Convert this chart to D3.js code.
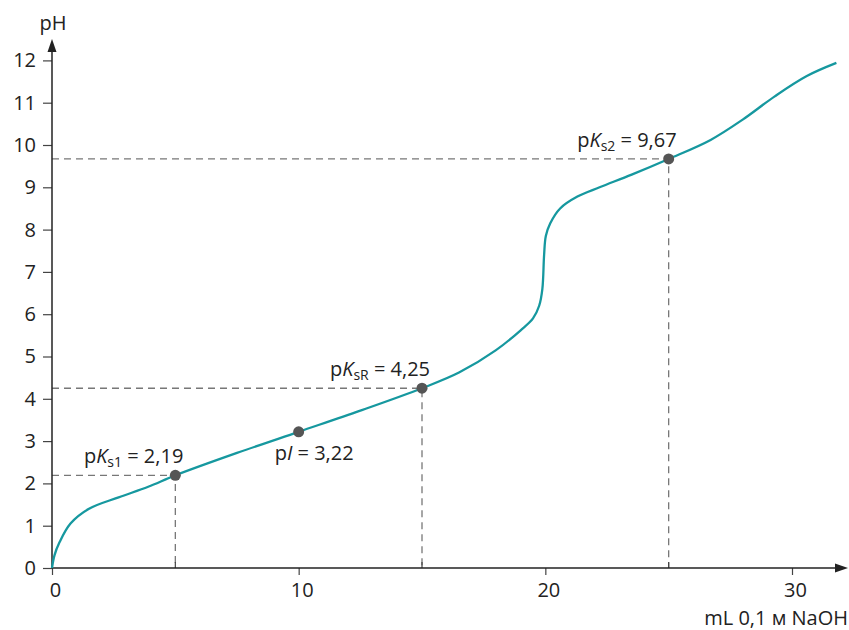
<!doctype html>
<html>
<head>
<meta charset="utf-8">
<script src="https://d3js.org/d3.v7.min.js"></script>
<style>
  body { margin: 0; background: #fff; }
  svg text { font-family: "Open Sans", "Noto Sans", sans-serif; fill: #222; }
</style>
</head>
<body>
<svg width="849" height="630"></svg>
<script>
// titration curve
var volume = [0, 0.1, 0.3, 0.75, 1.5, 2.7, 3.9, 5, 7.5, 10, 12.5, 15, 16.5, 18, 19, 19.5, 19.75, 19.88, 19.95, 20.02, 20.2, 20.6, 21.3, 22.2, 23.5, 25, 26.7, 28, 29.3, 30.6, 31.8];
var pH =     [0, 0.3, 0.6, 1.05, 1.4, 1.67, 1.92, 2.19, 2.72, 3.22, 3.72, 4.25, 4.62, 5.15, 5.62, 5.9, 6.2, 6.6, 7.4, 7.85, 8.15, 8.5, 8.78, 9.0, 9.3, 9.67, 10.12, 10.6, 11.15, 11.63, 11.94];

var markX = [5, 10, 15, 25];
var markY = [2.19, 3.22, 4.25, 9.67];
var markSub = ["s1", null, "sR", "s2"];
var markVal = ["2,19", "3,22", "4,25", "9,67"];

var xTicks = [0, 10, 20, 30];
var xMinor = [5, 15, 25];
var yTicks = d3.range(0, 13);

var svg = d3.select("svg");
var x = d3.scaleLinear().domain([0, 30]).range([52, 792]);
var y = d3.scaleLinear().domain([0, 10]).range([568, 145]);

// dashed guides
markX.forEach(function(v, i) {
  if (markSub[i] === null) return;
  svg.append("path")
     .attr("d", "M" + x(0) + "," + y(markY[i]) + "H" + x(v) + "V" + y(0))
     .attr("fill", "none")
     .attr("stroke", "#777")
     .attr("stroke-width", 1.3)
     .attr("stroke-dasharray", "7,5");
});

// axes
var xAxis = svg.append("g")
   .attr("transform", "translate(0," + y(0) + ")")
   .call(d3.axisBottom(x).tickValues(xTicks).tickSize(7).tickPadding(8).tickFormat(d3.format("d")));
xAxis.select(".domain").remove();
xAxis.selectAll("line").attr("stroke", "#444").attr("stroke-width", 1.2);
xAxis.selectAll("text").attr("font-size", 20).attr("dx", 3).style("font-family", "Open Sans").attr("fill", "#222");

svg.selectAll(".minor")
   .data(xMinor)
   .enter().append("line")
   .attr("x1", function(d) { return x(d); })
   .attr("x2", function(d) { return x(d); })
   .attr("y1", y(0))
   .attr("y2", y(0) - 6)
   .attr("stroke", "#444")
   .attr("stroke-width", 1.2);

var yAxis = svg.append("g")
   .attr("transform", "translate(" + x(0) + ",0)")
   .call(d3.axisLeft(y).tickValues(yTicks).tickSize(9).tickPadding(7).tickFormat(d3.format("d")));
yAxis.select(".domain").remove();
yAxis.selectAll("line").attr("stroke", "#444").attr("stroke-width", 1.2);
yAxis.selectAll("text").attr("font-size", 20).style("font-family", "Open Sans").attr("fill", "#222");

svg.append("line")
   .attr("x1", x(0)).attr("x2", 842)
   .attr("y1", y(0)).attr("y2", y(0))
   .attr("stroke", "#222").attr("stroke-width", 1.5);
svg.append("path")
   .attr("d", "M848," + y(0) + "l-13,-4.5v9z")
   .attr("fill", "#222");

svg.append("line")
   .attr("x1", x(0)).attr("x2", x(0))
   .attr("y1", y(0)).attr("y2", 46)
   .attr("stroke", "#222").attr("stroke-width", 1.5);
svg.append("path")
   .attr("d", "M" + x(0) + ",39l-4.5,13h9z")
   .attr("fill", "#222");

svg.append("text")
   .attr("x", 53).attr("y", 30)
   .attr("text-anchor", "middle")
   .attr("font-size", 20)
   .text("pH");

svg.append("text")
   .attr("x", 848).attr("y", 625)
   .attr("text-anchor", "end")
   .attr("font-size", 20)
   .text("mL 0,1 м NaOH");

// curve
var pts = volume.map(function(v, i) { return [v, pH[i]]; });
var line = d3.line()
   .x(function(d) { return x(d[0]); })
   .y(function(d) { return y(d[1]); })
   .curve(d3.curveCatmullRom.alpha(0.5));

svg.append("path")
   .datum(pts)
   .attr("d", line)
   .attr("fill", "none")
   .attr("stroke", "#16989f")
   .attr("stroke-width", 2.3);

// points
svg.selectAll(".pt")
   .data(markX)
   .enter().append("circle")
   .attr("cx", function(d) { return x(d); })
   .attr("cy", function(d, i) { return y(markY[i]); })
   .attr("r", 5.5)
   .attr("fill", "#555");

// labels
markX.forEach(function(v, i) {
  var t;
  if (markSub[i] === null) {
    t = svg.append("text")
       .attr("x", x(v) - 24)
       .attr("y", y(markY[i]) + 28)
       .attr("font-size", 20);
    t.append("tspan").text("p");
    t.append("tspan").attr("font-style", "italic").text("I");
    t.append("tspan").text(" = " + markVal[i]);
    return;
  }
  t = svg.append("text")
     .attr("x", x(v) + 8)
     .attr("y", y(markY[i]) - 12)
     .attr("text-anchor", "end")
     .attr("font-size", 20);
  t.append("tspan").text("p");
  t.append("tspan").attr("font-style", "italic").text("K");
  t.append("tspan").attr("font-size", 14).attr("dy", 4).text(markSub[i]);
  t.append("tspan").attr("dy", -4).text(" = " + markVal[i]);
});
</script>
</body>
</html>
